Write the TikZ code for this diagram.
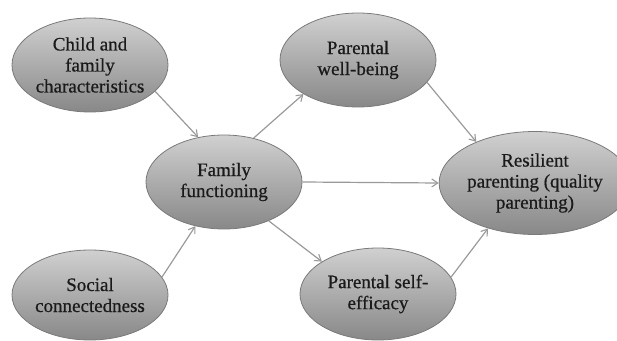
\documentclass[tikz,border=0pt]{standalone}
\usepackage{fontspec}
\setmainfont{Liberation Serif}
\newfontfamily\labelfont{Liberation Serif}[FakeBold=0.6]
\usetikzlibrary{shapes.geometric,arrows.meta}
\definecolor{ovaltop}{HTML}{D0D0D0}
\definecolor{ovalbottom}{HTML}{888888}
\definecolor{ovalrim}{HTML}{7A7A7A}
\definecolor{linkgray}{HTML}{9A9A9A}
\definecolor{inkdark}{HTML}{1A1A1A}
\tikzset{
  oval/.style={ellipse, draw=ovalrim, line width=0.8pt,
    top color=ovaltop, bottom color=ovalbottom,
    minimum width=156pt, minimum height=94pt, inner sep=0pt,
    text=inkdark, align=center,
    font=\labelfont\fontsize{19pt}{21pt}\selectfont},
  link/.style={draw=linkgray, line width=1.2pt,
    -{Straight Barb[length=6pt,width=8pt,line width=1.1pt]}}
}
\begin{document}
\begin{tikzpicture}[x=1pt,y=1pt]
\useasboundingbox (0,0) rectangle (617,340);
% factors on the left
\node[oval] (child) at (90,275) {Child and\\family\\characteristics};
\node[oval, minimum height=90pt] (social) at (90,45) {Social\\connectedness};
% mediator
\node[oval] (family) at (224,158) {Family\\functioning};
% parental factors
\node[oval] (wellbeing) at (358,280) {Parental\\well-being};
\node[oval, minimum height=92pt] (selfeff) at (378,46) {Parental self-\\efficacy};
% outcome
\node[oval, minimum width=160pt, minimum height=103pt] (resilient) at (535,157) {Resilient\\parenting (quality\\parenting)};
% paths
\draw[link] (child.-22) -- (family.120);
\draw[link] (social.14) -- (family.237);
\draw[link] (family.56) -- (wellbeing.212);
\draw[link] (family.-41) -- (selfeff.150);
\draw[link] (family.east) -- (resilient.west);
\draw[link] (wellbeing.-18) -- (resilient.145);
\draw[link] (selfeff.13) -- (resilient.224);
\end{tikzpicture}
\end{document}
